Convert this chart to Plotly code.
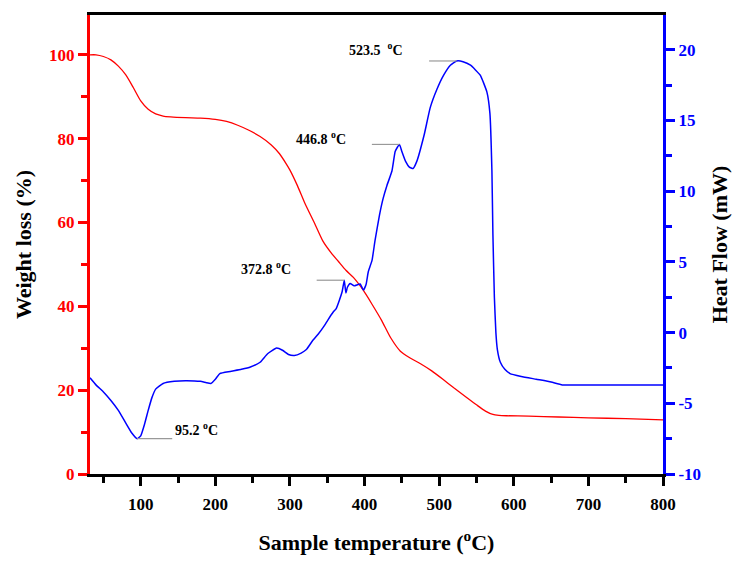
import plotly.graph_objects as go

# TGA (weight loss, %) vs temperature
tga_t = [32, 40, 50, 60, 70, 80, 90, 100, 110, 120, 130, 140, 160, 180, 200, 215, 230, 245, 260, 275,
         286, 295, 300, 310, 320, 333, 344, 355, 365, 375, 385, 398, 410, 423, 435, 448, 460, 475, 490, 505,
         520, 535, 550, 562, 572, 580, 590, 620, 660, 700, 750, 800]
tga_w = [100, 100, 99.6, 98.8, 97.3, 95.2, 92.2, 89.0, 87.0, 85.9, 85.4, 85.2, 85.0, 84.9, 84.6, 84.1, 83.2, 82.0, 80.5, 78.5,
         76.4, 74.0, 72.5, 68.8, 64.6, 59.8, 55.6, 52.8, 50.7, 48.6, 46.9, 43.9, 40.5, 36.6, 32.5, 29.3, 27.8, 26.3, 24.6, 22.6,
         20.5, 18.5, 16.5, 15.0, 14.2, 14.0, 13.9, 13.8, 13.6, 13.4, 13.2, 12.9]

# DSC (heat flow, mW) vs temperature
dsc_t = [32, 40, 50, 60, 70, 80, 88, 95.2, 100, 105, 110, 115, 120, 130, 145, 160, 180, 188, 194, 200,
         206, 220, 235, 247, 260, 270, 282, 290, 298, 306, 315, 322, 330, 338, 345, 351, 358, 362, 366,
         370, 372.8, 375, 377, 380.7, 386, 394, 398.5, 402, 405, 410, 414, 420, 425, 430, 436.6, 441, 444,
         446.8, 450, 455, 460, 465, 470, 480, 488, 497, 506, 515, 523.5, 532, 542, 555, 564, 568, 570.7,
         572, 574, 576, 578, 582, 588, 595, 610, 630, 650, 665, 700, 750, 800]
dsc_h = [-3.2, -3.7, -4.2, -4.8, -5.5, -6.4, -7.1, -7.5, -7.3, -6.5, -5.5, -4.6, -4.0, -3.6, -3.45, -3.4, -3.45, -3.55, -3.6, -3.3,
         -2.9, -2.75, -2.6, -2.44, -2.1, -1.5, -1.1, -1.25, -1.55, -1.62, -1.45, -1.2, -0.6, -0.1, 0.4, 0.9, 1.45, 1.7, 2.25,
         2.9, 3.7, 2.8, 3.2, 3.47, 3.3, 3.43, 3.0, 3.4, 4.3, 5.1, 6.5, 8.3, 9.5, 10.4, 11.4, 12.8, 13.1,
         13.3, 12.8, 12.1, 11.7, 11.6, 12.1, 14.0, 15.9, 17.2, 18.2, 18.9, 19.2, 19.15, 18.9, 18.2, 17.0, 15.5, 11.4,
         7.0, 2.5, 0.0, -1.2, -2.1, -2.6, -2.9, -3.1, -3.3, -3.5, -3.7, -3.7, -3.7, -3.7]

# Heat-flow axis tick values
hf_ticks = [-10, -5, 0, 5, 10, 15, 20]

# Marked DSC peaks
peak_t = [95.2, 372.8, 446.8, 523.5]
peak_h = [-7.5, 3.7, 13.3, 19.2]
peak_lbl = ["95.2 <sup>o</sup>C", "372.8 <sup>o</sup>C", "446.8 <sup>o</sup>C", "523.5  <sup>o</sup>C"]
peak_side = [1, -1, -1, -1]
peak_dy = [10, 12, 6, 12]

FONT = "Liberation Serif"

fig = go.Figure()
fig.add_trace(go.Scatter(x=tga_t, y=tga_w, mode="lines", line=dict(color="#ff0000", width=1.3, shape="spline", smoothing=0.6),
                         yaxis="y", showlegend=False))
fig.add_trace(go.Scatter(x=dsc_t, y=dsc_h, mode="lines", line=dict(color="#0000ff", width=1.5, shape="spline", smoothing=0.4),
                         yaxis="y2", showlegend=False))

for t, h, lbl, s, dy in zip(peak_t, peak_h, peak_lbl, peak_side, peak_dy):
    L = 47 if s > 0 else 37
    fig.add_trace(go.Scatter(x=[t, t + s * L], y=[h, h], mode="lines", line=dict(color="#999999", width=1.2),
                             yaxis="y2", showlegend=False, hoverinfo="skip"))
    fig.add_annotation(x=t + s * L, y=h, xref="x", yref="y2", text=lbl, showarrow=False,
                       xanchor="left" if s > 0 else "right", yanchor="middle",
                       xshift=1 if s > 0 else -24, yshift=dy,
                       font=dict(family=FONT, size=14, color="black", weight="bold"))

common = dict(showline=True, linewidth=3, ticks="outside", ticklen=9, tickwidth=3,
              showgrid=False, zeroline=False)

fig.update_layout(
    width=746, height=568,
    margin=dict(l=90, r=83, t=13, b=94),
    plot_bgcolor="white", paper_bgcolor="white",
    font=dict(family=FONT),
    xaxis=dict(range=[32, 800], tick0=0, dtick=100, linecolor="black", mirror=True, tickcolor="black",
               minor=dict(ticks="outside", ticklen=6, tickwidth=2.5, tickcolor="black", dtick=50, tick0=0),
               tickfont=dict(family=FONT, size=17, color="black", weight="bold"), ticklabelstandoff=4,
               title=dict(text="Sample temperature (<sup>o</sup>C)", font=dict(family=FONT, size=22, color="black", weight="bold"), standoff=22),
               **common),
    yaxis=dict(range=[0, 109.5], tick0=0, dtick=20, linecolor="#ff0000", tickcolor="#ff0000",
               minor=dict(ticks="outside", ticklen=6, tickwidth=2.5, tickcolor="#ff0000", dtick=10, tick0=0),
               tickfont=dict(family=FONT, size=17, color="#ff0000", weight="bold"),
               title=dict(text="Weight loss (%)", font=dict(family=FONT, size=22, color="black", weight="bold"), standoff=12),
               **common),
    yaxis2=dict(range=[-10, 22.45], tickmode="array", tickvals=hf_ticks, ticktext=[str(v) for v in hf_ticks],
                overlaying="y", side="right",
                linecolor="#0000ff", tickcolor="#0000ff",
                minor=dict(ticks="outside", ticklen=6, tickwidth=2.5, tickcolor="#0000ff", dtick=2.5, tick0=0),
                tickfont=dict(family=FONT, size=17, color="#0000ff", weight="bold"),
                title=dict(text="Heat Flow (mW)", font=dict(family=FONT, size=22, color="black", weight="bold"), standoff=12),
                **common),
)

fig.write_html("out.html")
